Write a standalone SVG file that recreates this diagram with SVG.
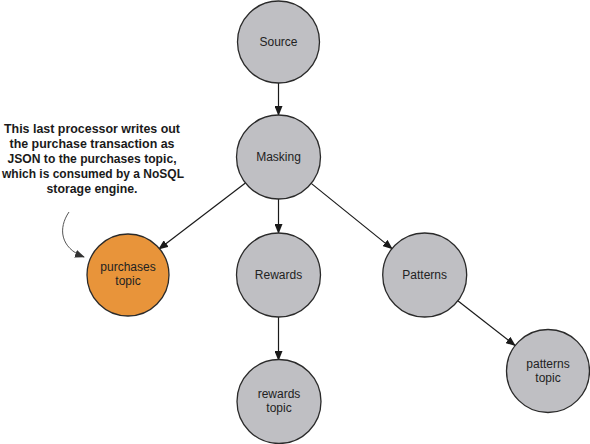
<svg xmlns="http://www.w3.org/2000/svg" width="590" height="444" viewBox="0 0 590 444">
<defs>
<marker id="ah" markerWidth="10" markerHeight="8" refX="9" refY="4" orient="auto" markerUnits="userSpaceOnUse">
<path d="M0,0 L10,4 L0,8 Z" fill="#1a1a1a"/>
</marker>
<marker id="ah2" markerWidth="10" markerHeight="8" refX="9" refY="4" orient="auto" markerUnits="userSpaceOnUse">
<path d="M0,0 L10,4 L0,8 Z" fill="#333"/>
</marker>
<style>
.n{fill:#bfbfc3;stroke:#2a2a2a;stroke-width:1.3}
.o{fill:#e8943a;stroke:#2a2a2a;stroke-width:1.3}
.t{font-family:"Liberation Sans",Arial,sans-serif;font-size:12px;fill:#222;text-anchor:middle}
.c{stroke:#1a1a1a;stroke-width:1.2;fill:none;marker-end:url(#ah)}
.a{font-family:"Liberation Sans",Arial,sans-serif;font-size:13.5px;font-weight:bold;fill:#1a1a1a;text-anchor:middle}
</style>
</defs>
<g id="connectors">
<line class="c" x1="278.5" y1="83" x2="278.5" y2="115"/>
<line class="c" x1="278.5" y1="199" x2="278.5" y2="233"/>
<line class="c" x1="278.5" y1="317" x2="278.5" y2="360"/>
<line class="c" x1="245.4" y1="183" x2="159" y2="249"/>
<line class="c" x1="311.2" y1="183.4" x2="392" y2="248.6"/>
<line class="c" x1="457.8" y1="300.8" x2="515" y2="345.5"/>
<path d="M69,212 C58,228 60,248 84,257" stroke="#555" stroke-width="1" fill="none" marker-end="url(#ah2)"/>
</g>
<g id="annotation">
<text class="a" x="92" y="133" textLength="176" lengthAdjust="spacingAndGlyphs">This last processor writes out</text>
<text class="a" x="92" y="148" textLength="165" lengthAdjust="spacingAndGlyphs">the purchase transaction as</text>
<text class="a" x="92" y="163" textLength="169" lengthAdjust="spacingAndGlyphs">JSON to the purchases topic,</text>
<text class="a" x="93" y="178" textLength="182" lengthAdjust="spacingAndGlyphs">which is consumed by a NoSQL</text>
<text class="a" x="92" y="193" textLength="91" lengthAdjust="spacingAndGlyphs">storage engine.</text>
</g>
<g id="source"><circle class="n" cx="278.5" cy="42" r="41"/><text class="t" x="278.5" y="46">Source</text></g>
<g id="masking"><circle class="n" cx="278.5" cy="157" r="42"/><text class="t" x="278.5" y="161">Masking</text></g>
<g id="purchases-topic"><circle class="o" cx="128" cy="275" r="41"/><text class="t" x="128" y="271">purchases</text><text class="t" x="128" y="285">topic</text></g>
<g id="rewards"><circle class="n" cx="278.5" cy="275" r="42"/><text class="t" x="278.5" y="279">Rewards</text></g>
<g id="patterns"><circle class="n" cx="424.7" cy="275" r="42"/><text class="t" x="424.7" y="279">Patterns</text></g>
<g id="rewards-topic"><circle class="n" cx="279" cy="401.5" r="42"/><text class="t" x="279" y="398">rewards</text><text class="t" x="279" y="412">topic</text></g>
<g id="patterns-topic"><circle class="n" cx="548" cy="371" r="41.5"/><text class="t" x="548" y="368">patterns</text><text class="t" x="548" y="382">topic</text></g>
</svg>
